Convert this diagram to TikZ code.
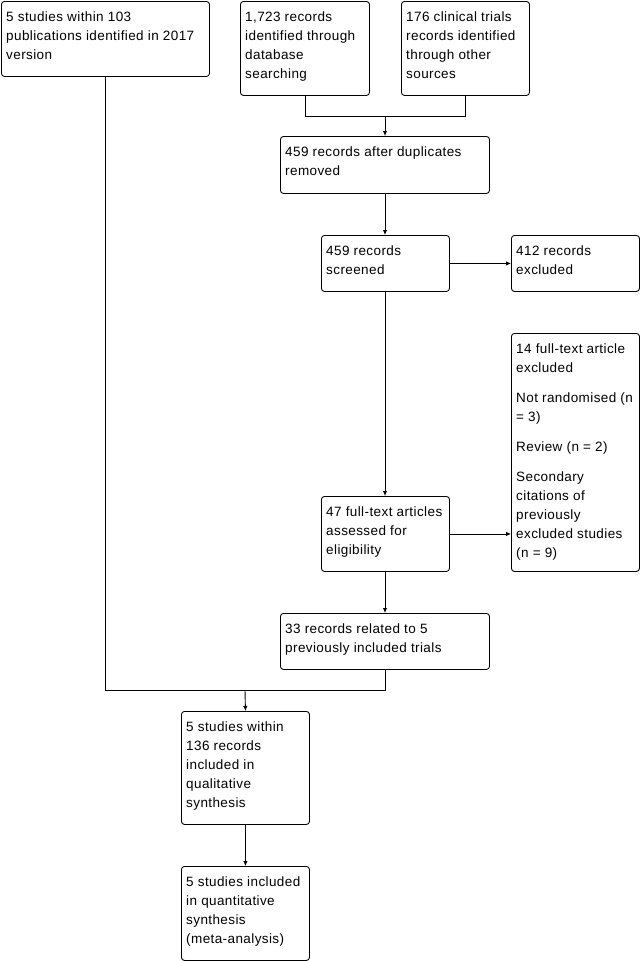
\documentclass[tikz,border=0pt]{standalone}
\usepackage{fontspec}
\setmainfont{Liberation Sans}[LetterSpace=3]
\usetikzlibrary{arrows.meta,calc}
\tikzset{
  box/.style={draw=black, line width=0.9pt, rounded corners=3pt, anchor=north west, inner sep=0pt},
  txt/.style={anchor=north west, inner sep=0pt, align=left, font=\fontsize{13.5}{19}\selectfont, text=black},
  line/.style={draw=black, line width=0.9pt},
  arr/.style={line, -{Latex[length=5pt,width=4.5pt]}}
}
\newcommand{\mkbox}[6]{%
  \node[box, minimum width=#3pt-#1pt, minimum height=#4pt-#2pt] (#5) at (#1,#2) {};
  \node[txt] (#5t) at ($(#5.north west)+(5,10.5)$) {#6};
}
\begin{document}
\begin{tikzpicture}[x=1pt,y=-1pt]
\useasboundingbox (0,0) rectangle (642,961);
\mkbox{1}{1}{209}{76}{b1}{5 studies within 103\\publications identified in 2017\\version}
\mkbox{240}{1}{369}{95}{b2}{1,723 records\\identified through\\database\\searching}
\mkbox{401}{1}{529}{95}{b3}{176 clinical trials\\records identified\\through other\\sources}
\mkbox{280}{136}{489}{193}{b4}{459 records after duplicates\\removed}
\mkbox{321}{235}{449}{291}{b5}{459 records\\screened}
\mkbox{511}{235}{639}{291}{b6}{412 records\\excluded}
\mkbox{511}{333}{639}{571}{b7}{14 full-text article\\excluded\\[11pt]Not randomised (n\\= 3)\\[11pt]Review (n = 2)\\[11pt]Secondary\\citations of\\previously\\excluded studies\\(n = 9)}
\mkbox{321}{496}{449}{571}{b8}{47 full-text articles\\assessed for\\eligibility}
\mkbox{280}{613}{489}{669}{b9}{33 records related to 5\\previously included trials}
\mkbox{181}{711}{309}{824}{b10}{5 studies within\\136 records\\included in\\qualitative\\synthesis}
\mkbox{181}{866}{309}{960}{b11}{5 studies included\\in quantitative\\synthesis\\(meta-analysis)}
\coordinate (j1) at (385,116);
\coordinate (j2) at (245,690);
\draw[line] (b2.south) |- (j1);
\draw[line] (b3.south) |- (j1);
\draw[arr] (j1) -- (j1 |- b4.north);
\draw[arr] (j1 |- b4.south) -- (j1 |- b5.north);
\draw[arr] (b5.east) -- (b6.west);
\draw[arr] (j1 |- b5.south) -- (j1 |- b8.north);
\draw[arr] (b8.east) -- (b8.east -| b7.west);
\draw[arr] (j1 |- b8.south) -- (j1 |- b9.north);
\draw[line] (b1.south) |- (j2);
\draw[line] (j1 |- b9.south) |- (j2);
\draw[arr] (j2) -- (b10.north);
\draw[arr] (b10.south) -- (b11.north);
\end{tikzpicture}
\end{document}
